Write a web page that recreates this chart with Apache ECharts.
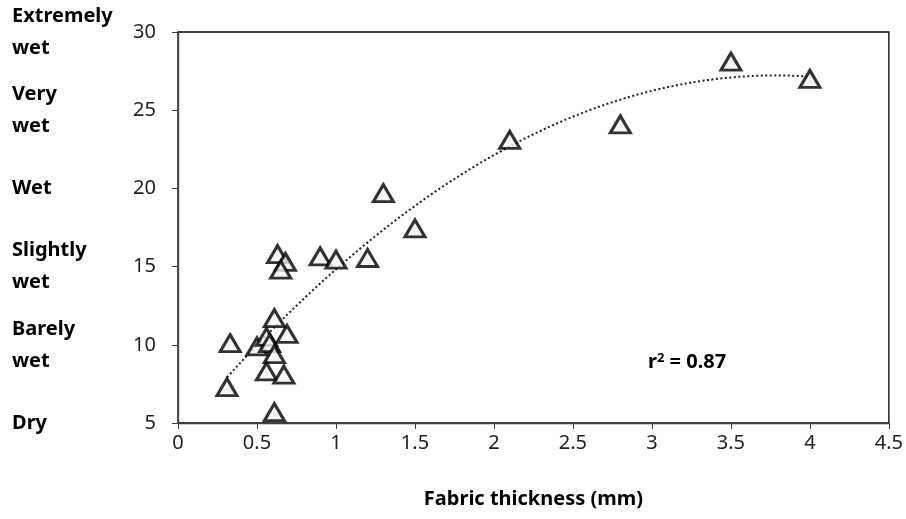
<!DOCTYPE html>
<html>
<head>
<meta charset="utf-8">
<script src="https://cdn.jsdelivr.net/npm/echarts@6/dist/echarts.min.js"></script>
<style>html,body{margin:0;padding:0;background:#fff;}#c{width:906px;height:519px;}</style>
</head>
<body>
<div id="c"></div>
<script>
// Fabric thickness (mm)
const thickness = [0.31, 0.33, 0.50, 0.56, 0.58, 0.61, 0.56, 0.67, 0.61, 0.61, 0.69,
                   0.63, 0.68, 0.65, 0.90, 1.00, 1.20, 1.30, 1.50, 2.10, 2.80, 3.50, 4.00];
// Wetness rating
const wetness =   [7.3, 10.1, 9.9, 10.5, 10.1, 9.4, 8.3, 8.1, 5.7, 11.7, 10.7,
                   15.8, 15.3, 14.8, 15.65, 15.45, 15.55, 19.7, 17.45, 23.1, 24.1, 28.1, 27.0];
const yTicks = [5, 10, 15, 20, 25, 30];
const wetLabels = ['Dry', 'Barely\nwet', 'Slightly\nwet', 'Wet', 'Very\nwet', 'Extremely\nwet'];
const xTitle = 'Fabric thickness (mm)';
const r2Text = '0.87';

// quadratic least-squares trend fitted to the data
function polyFit2(xs, ys) {
  let n = xs.length, s = [0,0,0,0,0], t = [0,0,0];
  for (let i = 0; i < n; i++) {
    let p = 1;
    for (let k = 0; k < 5; k++) { s[k] += p; if (k < 3) t[k] += p * ys[i]; p *= xs[i]; }
  }
  const A = [[s[0], s[1], s[2], t[0]], [s[1], s[2], s[3], t[1]], [s[2], s[3], s[4], t[2]]];
  for (let i = 0; i < 3; i++) {
    for (let j = i + 1; j < 3; j++) {
      const f = A[j][i] / A[i][i];
      for (let k = i; k < 4; k++) A[j][k] -= f * A[i][k];
    }
  }
  const c = [0,0,0];
  for (let i = 2; i >= 0; i--) {
    let v = A[i][3];
    for (let k = i + 1; k < 3; k++) v -= A[i][k] * c[k];
    c[i] = v / A[i][i];
  }
  return c;
}
const coef = polyFit2(thickness, wetness);
const xMinT = Math.min(...thickness), xMaxT = Math.max(...thickness);
const trend = [];
for (let i = 0; i <= 80; i++) {
  const x = xMinT + (xMaxT - xMinT) * i / 80;
  trend.push([x, coef[0] + coef[1] * x + coef[2] * x * x]);
}

const font = 'Noto Sans';
const chart = echarts.init(document.getElementById('c'), null, {renderer: 'canvas'});
chart.setOption({
  animation: false,
  backgroundColor: '#fff',
  grid: {left: 178, right: 17, top: 29, bottom: 96, show: true, borderColor: '#000', borderWidth: 1.3},
  xAxis: {
    type: 'value', min: 0, max: 4.5, interval: 0.5,
    name: xTitle, nameLocation: 'middle', nameGap: 66,
    nameTextStyle: {fontFamily: font, fontSize: 20, fontWeight: 'bold', color: '#000'},
    axisLine: {show: true, lineStyle: {color: '#404040', width: 1.3}},
    axisTick: {show: true, inside: false, length: 6, lineStyle: {color: '#404040'}},
    axisLabel: {fontFamily: font, fontSize: 20, color: '#222', margin: 10},
    splitLine: {show: false}
  },
  yAxis: [{
    type: 'value', min: 5, max: 30, interval: 5,
    axisLine: {show: true, lineStyle: {color: '#404040', width: 1.3}},
    axisTick: {show: true, inside: false, length: 6, lineStyle: {color: '#404040'}},
    axisLabel: {fontFamily: font, fontSize: 20, color: '#222', margin: 22},
    splitLine: {show: false}
  }, {
    type: 'value', min: 5, max: 30, interval: 5, position: 'left',
    axisLine: {show: false}, axisTick: {show: false}, splitLine: {show: false},
    axisLabel: {
      fontFamily: font, fontSize: 20, fontWeight: 'bold', color: '#000',
      align: 'left', margin: 166, lineHeight: 32,
      formatter: v => { const i = yTicks.indexOf(v); return i >= 0 ? wetLabels[i] : ''; }
    }
  }],
  series: [{
    type: 'line', data: trend, showSymbol: false, symbol: 'none', smooth: false,
    lineStyle: {color: '#222', width: 2, type: [2, 2.5]}, z: 1, silent: true
  }, {
    type: 'scatter', data: thickness.map((x, i) => [x, wetness[i]]),
    symbol: 'triangle', symbolSize: [20, 17],
    itemStyle: {color: '#f2f2f2', borderColor: '#000', borderWidth: 3}, z: 2
  }],
  graphic: [{
    type: 'text', left: 648, top: 352,
    style: {
      text: '{b|r}{s|2}{b| = ' + r2Text + '}',
      rich: {
        b: {fontFamily: font, fontSize: 20, fontWeight: 'bold', fill: '#000'},
        s: {fontFamily: font, fontSize: 13, fontWeight: 'bold', fill: '#000', verticalAlign: 'top', padding: [0, 0, 8, 0]}
      }
    }
  }]
});
</script>
</body>
</html>
